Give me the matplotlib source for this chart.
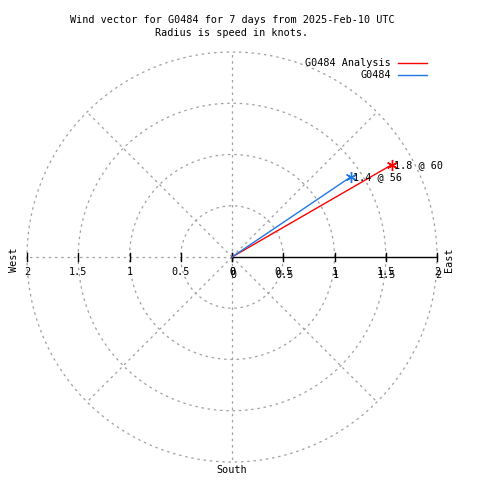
import numpy as np
import matplotlib
matplotlib.use('Agg')
import matplotlib.pyplot as plt

# Данные
series_names = ['G0484 Analysis', 'G0484']
speeds = [1.8, 1.4]          # knots
directions = [60, 56]        # degrees, compass
colors = ['#ff0000', '#1e78e6']
ring_values = [0.5, 1, 1.5, 2]
tick_labels = ['0', '0.5', '1', '1.5', '2']

plt.rcParams['font.family'] = ['DejaVu Sans Mono']
fs = 7.3

fig = plt.figure(figsize=(4.8, 4.8), dpi=100)
ax = fig.add_axes([0, 0, 1, 1])
scale = 102.5  # px per knot
ax.set_xlim(-232 / scale, (480 - 232) / scale)
ax.set_ylim(-223 / scale, 257 / scale)
ax.set_aspect('equal')
ax.axis('off')

grid_kw = dict(color='#a0a0a0', linewidth=0.9, linestyle=(0, (2, 3)))

# Окружности
t = np.linspace(0, 2 * np.pi, 400)
for r in ring_values:
    ax.plot(r * np.cos(t), r * np.sin(t), **grid_kw)

# Радиальные линии
rmax = ring_values[-1]
for ang in range(45, 360, 45):
    a = np.radians(ang)
    ax.plot([0, rmax * np.cos(a)], [0, rmax * np.sin(a)], **grid_kw)

# Ось на восток
ax.plot([0, rmax], [0, 0], color='black', linewidth=1.0)
tick_h = 4 / scale
for v in [0] + ring_values:
    ax.plot([v, v], [-tick_h, tick_h], color='black', linewidth=1.0)
    ax.plot([-v, -v], [-tick_h, tick_h], color='black', linewidth=1.0)

# Подписи делений
vals = [0] + ring_values
for v, lab in zip(vals, tick_labels):
    ax.text(-v, -15 / scale, lab, ha='center', va='center', fontsize=fs)
    ax.text(v, -15 / scale, lab, ha='center', va='center', fontsize=fs)
    ax.text(v + 1 / scale, -18 / scale, lab, ha='center', va='center', fontsize=fs)

# Стороны света
ax.text(-218 / scale, -3 / scale, 'West', rotation=90, ha='center', va='center', fontsize=fs)
ax.text(217 / scale, -3 / scale, 'East', rotation=90, ha='center', va='center', fontsize=fs)
ax.text(0, -213 / scale, 'South', ha='center', va='center', fontsize=fs)

# Векторы ветра
for name, spd, d, c in zip(series_names, speeds, directions, colors):
    a = np.radians(d)
    x, y = spd * np.sin(a), spd * np.cos(a)
    ax.plot([0, x], [0, y], color=c, linewidth=1.0, label=name)
    ax.plot(x, y, marker=(6, 2, 0), color=c, markersize=8, markeredgewidth=1.0)
    ax.text(x + 2 / scale, y, f'{spd} @ {d}', ha='left', va='center', fontsize=fs)

# Легенда
for i, (name, c) in enumerate(zip(series_names, colors)):
    ly = (257 - 63 - 12 * i) / scale
    ax.text((391 - 232) / scale, ly, name, ha='right', va='center', fontsize=fs)
    ax.plot([(398 - 232) / scale, (427 - 232) / scale], [ly, ly], color=c, linewidth=1.0)

fig.text(0.483, 1 - 20 / 480, 'Wind vector for G0484 for 7 days from 2025-Feb-10 UTC',
         ha='center', va='center', fontsize=fs)
fig.text(0.483, 1 - 33 / 480, 'Radius is speed in knots.', ha='center', va='center', fontsize=fs)

fig.savefig('out.png', dpi=100, facecolor='white')
